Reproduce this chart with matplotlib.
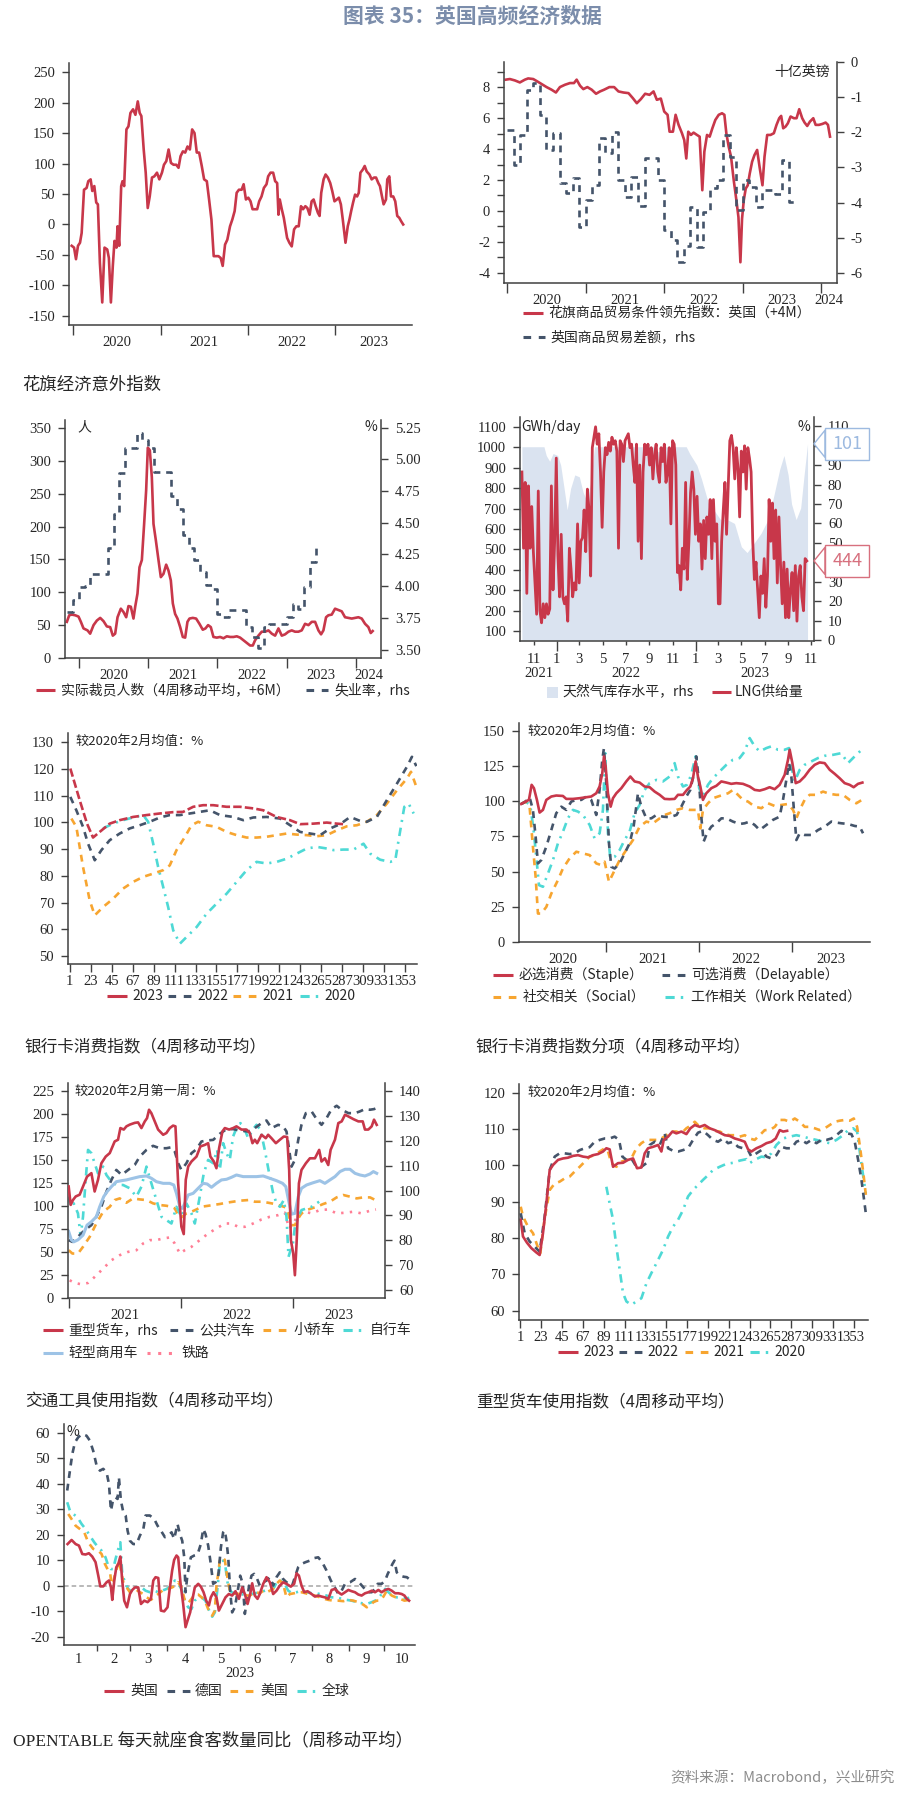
import numpy as np
import pandas as pd
import matplotlib
matplotlib.use("Agg")
import matplotlib.pyplot as plt
import matplotlib.dates as mdates
import matplotlib.transforms as mtransforms
from matplotlib.lines import Line2D
from matplotlib.patches import Rectangle
from matplotlib.ticker import FuncFormatter

plt.rcParams['font.family'] = ['Liberation Serif', 'Noto Sans CJK SC', 'DejaVu Sans']
plt.rcParams['axes.unicode_minus'] = False
CJK = ['Noto Sans CJK SC', 'DejaVu Sans']

# ---------------- data ----------------
# 1) Citi economic surprise index UK  (years after 2020, value)
cesi = [(-0.019, -35), (0.008, -38), (0.030, -57), (0.053, -35), (0.076, -30), (0.095, -14), (0.122, 57), (0.152, 60),
        (0.171, 71), (0.198, 74), (0.217, 55), (0.240, 63), (0.262, 36), (0.281, 33), (0.304, -63), (0.331, -128),
        (0.357, -38), (0.388, -41), (0.407, -55), (0.430, -128), (0.452, -68), (0.471, -27), (0.494, -38), (0.506, -3),
        (0.525, -35), (0.548, 63), (0.563, 71), (0.582, 63), (0.608, 156), (0.631, 161), (0.654, 183), (0.684, 189),
        (0.711, 180), (0.738, 202), (0.760, 183), (0.779, 178), (0.806, 123), (0.829, 85), (0.852, 27), (0.875, 46),
        (0.901, 77), (0.928, 79), (0.958, 85), (0.985, 74), (1.015, 85), (1.038, 98), (1.065, 104), (1.091, 123),
        (1.118, 101), (1.148, 98), (1.179, 98), (1.205, 93), (1.228, 112), (1.255, 120), (1.281, 118), (1.308, 128),
        (1.335, 123), (1.361, 156), (1.388, 150), (1.414, 118), (1.441, 118), (1.471, 96), (1.498, 74), (1.529, 71),
        (1.555, 41), (1.582, 8), (1.608, -52), (1.635, -52), (1.662, -52), (1.688, -55), (1.711, -68), (1.738, -33),
        (1.764, -25), (1.795, -3), (1.821, 8), (1.848, 22), (1.871, 52), (1.897, 57), (1.928, 57), (1.951, 66),
        (1.977, 41), (2.004, 44), (2.030, 38), (2.053, 25), (2.080, 25), (2.106, 25), (2.129, 38), (2.156, 46),
        (2.183, 60), (2.213, 66), (2.232, 79), (2.259, 85), (2.289, 85), (2.312, 71), (2.335, 68), (2.350, 16),
        (2.365, 41), (2.388, 25), (2.411, 11), (2.433, -8), (2.449, -22), (2.475, -30), (2.502, -36), (2.529, -8),
        (2.555, -3), (2.582, -3), (2.608, 30), (2.631, 25), (2.658, 30), (2.681, 27), (2.707, 16), (2.730, 38),
        (2.753, 41), (2.776, 30), (2.802, 19), (2.821, 14), (2.840, 52), (2.867, 74), (2.890, 82), (2.916, 77),
        (2.943, 68), (2.966, 55), (2.992, 38), (3.019, 41), (3.042, 44), (3.065, 33), (3.087, 8), (3.118, -30),
        (3.144, -3), (3.163, 8), (3.183, 22), (3.205, 36), (3.228, 49), (3.251, 46), (3.270, 52), (3.289, 85),
        (3.316, 90), (3.338, 96), (3.361, 87), (3.392, 82), (3.418, 74), (3.445, 77), (3.468, 77), (3.494, 68),
        (3.513, 63), (3.536, 46), (3.555, 33), (3.582, 41), (3.597, 74), (3.620, 79), (3.639, 46), (3.665, 46),
        (3.688, 38), (3.711, 14), (3.734, 11), (3.757, 5), (3.779, 0)]

# 2) Citi terms of trade leading index (+4M) and UK goods trade balance (rhs, monthly from Jan 2020)
tot = [(-0.017, 8.48), (0.034, 8.52), (0.098, 8.43), (0.162, 8.3), (0.226, 8.48), (0.268, 8.56), (0.332, 8.52),
       (0.383, 8.37), (0.438, 8.2), (0.502, 8.0), (0.566, 7.83), (0.621, 7.65), (0.672, 8.0), (0.736, 8.15), (0.8, 8.26),
       (0.851, 8.26), (0.885, 8.48), (0.928, 8.09), (0.970, 7.87), (1.021, 8.0), (1.077, 7.83), (1.132, 7.57),
       (1.183, 7.72), (1.234, 7.83), (1.302, 8.0), (1.362, 8.0), (1.417, 7.72), (1.481, 7.65), (1.545, 7.61),
       (1.6, 7.29), (1.651, 6.96), (1.702, 7.22), (1.757, 7.57), (1.813, 7.5), (1.864, 7.72), (1.906, 7.18),
       (1.957, 7.26), (2.0, 6.42), (2.043, 6.21), (2.068, 5.12), (2.111, 5.12), (2.145, 6.21), (2.183, 5.56),
       (2.226, 5.02), (2.255, 4.58), (2.281, 3.39), (2.306, 5.12), (2.340, 4.91), (2.374, 5.06), (2.417, 4.91),
       (2.451, 4.8), (2.485, 1.34), (2.511, 3.83), (2.545, 4.91), (2.579, 4.8), (2.613, 5.34), (2.651, 5.88),
       (2.694, 6.21), (2.736, 6.31), (2.766, 6.21), (2.791, 5.02), (2.821, 4.15), (2.851, 3.5), (2.885, 1.99),
       (2.919, 0.69), (2.945, -0.39), (2.970, -3.31), (2.991, -0.5), (3.013, 0.69), (3.038, 1.45), (3.064, 1.66),
       (3.089, 2.42), (3.119, 3.18), (3.149, 3.61), (3.183, 3.94), (3.217, 2.75), (3.251, 1.66), (3.277, 3.5),
       (3.311, 4.91), (3.353, 4.91), (3.396, 5.02), (3.430, 5.56), (3.464, 5.99), (3.489, 6.14), (3.515, 5.34),
       (3.545, 5.45), (3.574, 5.66), (3.609, 6.1), (3.651, 5.99), (3.685, 5.99), (3.719, 6.57), (3.757, 5.99),
       (3.787, 5.71), (3.821, 5.49), (3.855, 5.77), (3.898, 5.99), (3.928, 5.56), (3.970, 5.56), (4.013, 5.62),
       (4.055, 5.71), (4.085, 5.56), (4.111, 4.8)]
trade_bal = [-1.93, -2.93, -2.07, -0.79, -0.6, -1.5, -2.5, -2.02, -3.45, -3.72, -3.3, -4.69, -3.93, -3.5, -2.17,
             -2.6, -1.98, -3.36, -3.83, -3.26, -4.1, -2.74, -2.74, -3.36, -4.78, -5.07, -5.68, -5.24, -4.12, -5.26,
             -4.26, -3.59, -3.36, -2.07, -2.69, -4.21, -3.36, -3.55, -4.12, -3.64, -3.64, -3.74, -2.78, -3.97]

# 3) layoffs (4wk avg, +6M) and unemployment rate (rhs, monthly from Nov 2019)
layoffs = [(-0.173, 55), (-0.139, 65), (-0.101, 66), (-0.053, 65), (-0.005, 63), (0.029, 55), (0.067, 45), (0.125, 42),
           (0.163, 37), (0.212, 50), (0.260, 57), (0.308, 61), (0.356, 56), (0.404, 48), (0.452, 47), (0.490, 34),
           (0.524, 37), (0.558, 62), (0.606, 75), (0.644, 70), (0.683, 62), (0.716, 79), (0.75, 78), (0.788, 60),
           (0.813, 78), (0.846, 98), (0.875, 138), (0.909, 149), (0.942, 204), (0.971, 255), (0.995, 320), (1.024, 316),
           (1.053, 275), (1.077, 204), (1.111, 179), (1.149, 149), (1.183, 123), (1.221, 128), (1.260, 142),
           (1.293, 133), (1.327, 118), (1.356, 83), (1.389, 67), (1.423, 60), (1.462, 47), (1.5, 32), (1.534, 31),
           (1.567, 55), (1.596, 60), (1.644, 61), (1.692, 60), (1.740, 52), (1.788, 43), (1.827, 45), (1.865, 50),
           (1.904, 47), (1.942, 32), (1.990, 31), (2.038, 32), (2.087, 30), (2.135, 33), (2.183, 32), (2.231, 32),
           (2.279, 33), (2.327, 31), (2.375, 27), (2.423, 23), (2.471, 19), (2.510, 19), (2.543, 27), (2.591, 34),
           (2.639, 40), (2.688, 40), (2.736, 42), (2.784, 37), (2.832, 34), (2.880, 45), (2.928, 34), (2.976, 36),
           (3.024, 40), (3.072, 42), (3.120, 40), (3.168, 40), (3.216, 42), (3.264, 52), (3.313, 50), (3.361, 55),
           (3.409, 55), (3.457, 42), (3.495, 36), (3.529, 42), (3.567, 62), (3.601, 65), (3.649, 66), (3.697, 75),
           (3.745, 73), (3.793, 71), (3.841, 62), (3.889, 61), (3.938, 60), (3.986, 61), (4.034, 62), (4.082, 60),
           (4.130, 52), (4.178, 47), (4.212, 38), (4.240, 41)]
unemp = [3.80, 3.89, 3.99, 4.00, 4.10, 4.10, 4.10, 4.30, 4.57, 4.89, 5.09, 5.09, 5.21, 5.15, 5.09, 4.90, 4.90, 4.90,
         4.71, 4.61, 4.40, 4.30, 4.21, 4.11, 4.01, 3.98, 3.78, 3.76, 3.81, 3.81, 3.81, 3.68, 3.60, 3.51, 3.68, 3.70,
         3.70, 3.70, 3.76, 3.86, 3.82, 3.99, 4.19, 4.30]

# 4) LNG supply (GWh/day, 2021-10-01 .. 2023-10-20) and gas storage level (%, rhs)
lng = [879, 506, 828, 285, 811, 506, 710, 489, 336, 183, 786, 200, 141, 234, 166, 234, 183, 209, 811, 302, 540, 947,
       472, 268, 574, 268, 234, 268, 149, 506, 404, 268, 336, 302, 625, 336, 540, 557, 693, 489, 795, 693, 370, 998,
       1049, 1100, 1015, 1066, 879, 608, 879, 998, 964, 1024, 981, 1049, 1015, 1032, 981, 506, 1032, 1015, 930, 1032,
       1049, 1066, 998, 1015, 913, 828, 1015, 540, 913, 455, 879, 1015, 964, 1015, 913, 998, 845, 964, 1015, 879, 828,
       998, 930, 1015, 828, 879, 998, 625, 1032, 1015, 913, 387, 421, 302, 506, 404, 828, 353, 540, 777, 879, 795,
       574, 760, 540, 625, 404, 642, 455, 659, 574, 744, 455, 744, 540, 625, 234, 234, 540, 693, 828, 574, 811, 1032,
       1058, 998, 845, 998, 896, 659, 981, 879, 1007, 795, 998, 947, 879, 540, 353, 438, 302, 166, 370, 285, 455, 217,
       370, 744, 540, 727, 455, 693, 336, 659, 421, 234, 438, 166, 404, 166, 302, 387, 200, 421, 149, 370, 421, 268,
       200, 455, 444]
storage = [('2021-10-01', 99.5), ('2021-11-28', 99.5), ('2021-12-04', 95), ('2021-12-13', 92), ('2021-12-22', 96),
           ('2022-01-03', 95), ('2022-01-11', 90), ('2022-01-20', 78), ('2022-01-28', 67), ('2022-02-06', 78),
           ('2022-02-17', 85), ('2022-03-01', 84), ('2022-03-11', 76), ('2022-03-20', 72), ('2022-03-30', 80),
           ('2022-04-10', 99.5), ('2022-09-11', 99.5), ('2022-09-19', 97), ('2022-10-02', 97), ('2022-10-11', 99.5),
           ('2022-12-07', 99.5), ('2022-12-16', 96), ('2023-01-04', 90), ('2023-01-16', 83), ('2023-02-04', 70),
           ('2023-02-21', 66), ('2023-03-07', 62), ('2023-03-25', 62), ('2023-04-13', 60), ('2023-05-01', 48),
           ('2023-05-16', 45), ('2023-06-04', 50), ('2023-06-22', 55), ('2023-07-10', 62), ('2023-07-25', 74),
           ('2023-08-10', 88), ('2023-08-21', 95), ('2023-09-01', 85), ('2023-09-10', 70), ('2023-09-22', 62),
           ('2023-10-04', 68), ('2023-10-13', 85), ('2023-10-22', 101)]

# 5) card spending index by year (day of year, % of Feb 2020)
card23 = [(1.7, 120.1), (11.5, 108.3), (19.2, 99.5), (25.5, 94.3), (32.5, 96.4), (43, 99.5), (53.5, 100.8), (67.5, 102),
          (81.6, 102.7), (95.6, 103.3), (109.6, 103.8), (120, 103.9), (130.6, 105.8), (141, 106.4), (151.6, 106.4),
          (165.6, 105.8), (179.6, 105.8), (193.6, 105.2), (204, 104.5), (218, 102), (232, 100.8), (242.7, 99.3),
          (256.7, 99.5), (270.7, 99.9), (281.2, 99.5), (288.2, 99.3)]
card22 = [(1.7, 109.5), (8, 104.5), (15, 98.3), (20.3, 92), (27.3, 85.8), (34.3, 89.6), (43, 93.3), (53.5, 95.8),
          (64, 97.7), (74.6, 98.9), (85, 100.2), (95.6, 101.8), (106, 102.7), (116.6, 102.7), (127.1, 103.3),
          (137.6, 103.9), (148.1, 104.5), (158.6, 102.7), (172.6, 102), (183.1, 100.8), (193.6, 101.8), (207.7, 102),
          (221.7, 101.4), (232.2, 98.9), (242.7, 96.4), (253.2, 95.8), (263.7, 95.2), (274.2, 97.7), (284.7, 99.3),
          (295.2, 102), (305.7, 100.5), (312.7, 100.2), (323.2, 102), (333.7, 108.3), (344.3, 114.5), (354.8, 120.8),
          (360, 124.5), (364.6, 121)]
card21 = [(2.8, 101.4), (8, 98.3), (15, 83.3), (22, 70.8), (27.3, 65.2), (36, 68.3), (46.5, 71.4), (57, 75.2),
          (67.5, 77.7), (78.1, 79.6), (88.6, 80.8), (99.1, 82.1), (106, 83.9), (113.1, 89.6), (121.8, 94.5),
          (128.8, 98.9), (135.8, 100.2), (144.6, 98.9), (155.1, 98.3), (165.6, 96.4), (176.1, 95.2), (186.6, 94.3),
          (197.1, 94.3), (207.7, 94.6), (218.2, 95.2), (228.7, 95.8), (239.2, 95.4), (249.7, 95.2), (260.2, 94.8),
          (270.7, 95.2), (281.2, 97), (291.7, 98.5), (302.2, 98.9), (312.7, 100.2), (323.2, 102.7), (333.7, 107),
          (344.3, 112), (354.8, 116.4), (359, 118.9), (364.6, 113.3)]
card20 = [(36, 97.7), (46.5, 99.5), (57, 100.8), (67.5, 101.8), (78.1, 102.7), (83.3, 100.2), (88.6, 92), (93.8, 83.3),
          (99.1, 75.8), (104.3, 68.3), (109.6, 59.6), (116.6, 54.6), (123.6, 57.1), (134.1, 60.8), (144.6, 65.8),
          (155.1, 69.6), (165.6, 73.3), (176.1, 77.7), (186.6, 82.1), (197.1, 85.2), (207.7, 84.6), (218.2, 85.2),
          (228.7, 86.4), (239.2, 88.3), (249.7, 90.2), (260.2, 90.8), (270.7, 90.2), (277.7, 89.6), (288.2, 89.8),
          (298.7, 89.8), (309.2, 92), (316.2, 88.3), (326.7, 86), (337.2, 85.2), (342.5, 85.8), (346, 93.3),
          (352, 105.8), (356.5, 107), (361.8, 103.3)]

# 6) card spending components (year, % of Feb 2020)
staple = [(2020.084, 98), (2020.131, 99.7), (2020.167, 100.9), (2020.196, 111.6), (2020.221, 109.2), (2020.253, 100.9),
          (2020.282, 91.9), (2020.318, 93.8), (2020.354, 100.9), (2020.408, 103.3), (2020.461, 104), (2020.533, 103.7),
          (2020.569, 101.6), (2020.641, 101.6), (2020.713, 102.1), (2020.785, 102.8), (2020.838, 103.3),
          (2020.892, 105.6), (2020.928, 110.4), (2020.957, 119.9), (2020.975, 131.8), (2020.993, 124.6),
          (2021.018, 105.6), (2021.047, 96.1), (2021.072, 102.1), (2021.108, 105.6), (2021.162, 109.2), (2021.215, 114),
          (2021.259, 117.5), (2021.305, 114), (2021.359, 113.2), (2021.413, 110.4), (2021.467, 109.9),
          (2021.521, 106.8), (2021.575, 104.5), (2021.628, 101.6), (2021.682, 101.4), (2021.736, 101.6),
          (2021.772, 104.5), (2021.826, 104.5), (2021.869, 108), (2021.905, 110.4), (2021.934, 116.3),
          (2021.962, 128.2), (2021.987, 117.5), (2022.013, 110.4), (2022.041, 100.9), (2022.077, 105.6),
          (2022.131, 109.2), (2022.185, 110.9), (2022.239, 114), (2022.293, 113.2), (2022.346, 112.3), (2022.4, 112.8),
          (2022.472, 112.3), (2022.544, 110.4), (2022.598, 108), (2022.652, 107.5), (2022.706, 108.5),
          (2022.759, 109.9), (2022.813, 108.5), (2022.867, 111.6), (2022.921, 118.7), (2022.957, 129.4),
          (2022.975, 136.5), (2023.004, 127), (2023.040, 112.8), (2023.083, 114), (2023.136, 117.5), (2023.190, 122.3),
          (2023.244, 125.8), (2023.298, 127.5), (2023.352, 127), (2023.406, 122.3), (2023.460, 119.4),
          (2023.513, 116.3), (2023.567, 112.8), (2023.621, 111.6), (2023.664, 109.9), (2023.711, 112.3),
          (2023.758, 113.2)]
delayable = [(2020.084, 98), (2020.131, 99.7), (2020.174, 102.8), (2020.210, 93.8), (2020.239, 74.8), (2020.264, 55.8),
             (2020.300, 58.2), (2020.354, 67.7), (2020.408, 79.5), (2020.461, 91.4), (2020.515, 96.1), (2020.569, 93.8),
             (2020.623, 99.7), (2020.677, 100.9), (2020.731, 100.9), (2020.785, 103.3), (2020.838, 100.9),
             (2020.892, 90.2), (2020.928, 108), (2020.957, 129.4), (2020.975, 137.7), (2021.0, 112.8), (2021.029, 70),
             (2021.054, 53.4), (2021.090, 52.2), (2021.144, 55.8), (2021.197, 62.9), (2021.251, 70), (2021.294, 81.9),
             (2021.323, 96.1), (2021.341, 105.6), (2021.377, 96.1), (2021.431, 87.8), (2021.485, 87.8),
             (2021.539, 90.2), (2021.610, 89), (2021.682, 88.6), (2021.757, 90.2), (2021.808, 96.1), (2021.862, 103.3),
             (2021.905, 108), (2021.951, 122.3), (2021.969, 131.8), (2022.0, 112.8), (2022.023, 89), (2022.048, 71.2),
             (2022.084, 77.2), (2022.131, 81.9), (2022.185, 84.3), (2022.239, 87.8), (2022.293, 87.8),
             (2022.364, 85.5), (2022.436, 83.8), (2022.490, 84.3), (2022.544, 85.5), (2022.598, 83.1),
             (2022.652, 79.5), (2022.724, 83.1), (2022.795, 86.7), (2022.867, 89), (2022.903, 100.9), (2022.939, 115.1),
             (2022.968, 127), (2022.993, 117.5), (2023.018, 96.1), (2023.047, 72.4), (2023.083, 77.2), (2023.136, 76),
             (2023.208, 76), (2023.280, 79.5), (2023.352, 81.9), (2023.424, 85.5), (2023.477, 84.8), (2023.531, 84.3),
             (2023.603, 83.8), (2023.675, 82.4), (2023.729, 81.9), (2023.765, 77.2)]
social = [(2020.084, 98), (2020.131, 99.7), (2020.174, 96.1), (2020.210, 67.7), (2020.239, 46.3), (2020.264, 20.2),
          (2020.300, 20.2), (2020.354, 24.9), (2020.408, 34.4), (2020.479, 43.9), (2020.533, 52.2), (2020.605, 59.4),
          (2020.677, 64.1), (2020.749, 62.9), (2020.821, 61.7), (2020.892, 55.8), (2020.946, 54.6), (2020.982, 57),
          (2021.029, 42.7), (2021.090, 51), (2021.144, 58.2), (2021.215, 65.3), (2021.287, 72.4), (2021.359, 81.9),
          (2021.431, 85.5), (2021.503, 84.3), (2021.575, 87.8), (2021.628, 90.2), (2021.682, 91.4), (2021.757, 93.8),
          (2021.826, 95), (2021.898, 93.8), (2021.951, 93.8), (2021.987, 93.8), (2022.013, 80.7), (2022.041, 93.8),
          (2022.095, 98.5), (2022.149, 102.1), (2022.203, 103.3), (2022.257, 104.5), (2022.311, 105.6),
          (2022.364, 108), (2022.418, 104.5), (2022.472, 100.9), (2022.526, 99.7), (2022.598, 96.1), (2022.670, 95),
          (2022.742, 98.5), (2022.813, 96.6), (2022.885, 97.3), (2022.957, 98), (2023.011, 93.8), (2023.047, 87.8),
          (2023.083, 93.8), (2023.136, 100.9), (2023.190, 104.5), (2023.262, 104.5), (2023.334, 106.8),
          (2023.406, 105.2), (2023.477, 104.5), (2023.549, 104.5), (2023.621, 100.9), (2023.693, 98.5),
          (2023.765, 101.4)]
work = [(2020.084, 98), (2020.131, 99.7), (2020.181, 97.3), (2020.217, 79.5), (2020.246, 60.5), (2020.275, 40.4),
        (2020.318, 39.2), (2020.372, 48.7), (2020.426, 58.2), (2020.479, 70), (2020.533, 78.3), (2020.587, 87.8),
        (2020.641, 93.8), (2020.695, 92.6), (2020.749, 90.2), (2020.821, 83.1), (2020.874, 73.6), (2020.928, 77.2),
        (2020.964, 93.8), (2020.989, 134.1), (2021.018, 77.2), (2021.043, 59.4), (2021.090, 60.5), (2021.144, 65.3),
        (2021.197, 72.4), (2021.251, 78.3), (2021.305, 91.4), (2021.359, 97.3), (2021.413, 108), (2021.467, 112.8),
        (2021.539, 115.1), (2021.610, 114), (2021.682, 117.5), (2021.736, 127), (2021.772, 117.5), (2021.826, 110.4),
        (2021.869, 111.6), (2021.915, 118.7), (2021.962, 131.8), (2022.0, 109.2), (2022.041, 103.3),
        (2022.095, 111.6), (2022.149, 116.3), (2022.221, 121.1), (2022.293, 125.8), (2022.364, 129.4),
        (2022.436, 130.6), (2022.490, 135.3), (2022.544, 144.8), (2022.598, 138.9), (2022.652, 135.3),
        (2022.724, 137.7), (2022.777, 138.9), (2022.849, 136.5), (2022.921, 136.5), (2022.968, 137.7),
        (2022.993, 124.6), (2023.029, 114), (2023.083, 122.3), (2023.136, 125.8), (2023.208, 128.2),
        (2023.280, 130.6), (2023.352, 132.2), (2023.442, 132.9), (2023.531, 134.1), (2023.603, 127),
        (2023.675, 131.8), (2023.758, 137)]

# 7) transport usage (years after 2021, % of first week of Feb 2020); heavy truck on rhs
truck = [(0.0, 101.6), (0.018, 94.2), (0.039, 96.2), (0.063, 97.6), (0.098, 98.3), (0.128, 101.6), (0.164, 105.6),
         (0.203, 107), (0.232, 99.6), (0.262, 104.3), (0.292, 111), (0.331, 113.7), (0.367, 115.1), (0.411, 119.8),
         (0.441, 120.5), (0.462, 125.2), (0.492, 124.6), (0.516, 125.9), (0.546, 126.6), (0.590, 127.3),
         (0.620, 127.5), (0.650, 125.2), (0.680, 127.9), (0.700, 129.2), (0.718, 132.6), (0.739, 131.2),
         (0.769, 127.9), (0.799, 124.6), (0.844, 122.5), (0.873, 123.2), (0.903, 125.2), (0.933, 126.2),
         (0.954, 125.9), (0.978, 102.9), (1.007, 85.4), (1.028, 82.4), (1.046, 104.3), (1.068, 109.7), (1.097, 111.7),
         (1.142, 113.7), (1.177, 117.8), (1.216, 118.4), (1.246, 119.1), (1.266, 113.7), (1.297, 111.7), (1.320, 109),
         (1.344, 117.1), (1.374, 123.9), (1.395, 125.2), (1.434, 124.6), (1.469, 125.2), (1.499, 125.9),
         (1.544, 124.6), (1.588, 124.6), (1.618, 123.2), (1.642, 119.1), (1.663, 120.5), (1.684, 119.1),
         (1.723, 122.5), (1.761, 121.1), (1.782, 122.5), (1.812, 121.1), (1.851, 119.1), (1.887, 120.5),
         (1.922, 121.8), (1.952, 121.6), (1.970, 108.3), (1.985, 80), (2.006, 74.6), (2.021, 65.8), (2.036, 78.6),
         (2.057, 102.9), (2.080, 108.3), (2.119, 111), (2.155, 113), (2.200, 113), (2.238, 116.4), (2.259, 111.7),
         (2.289, 113), (2.319, 110.3), (2.340, 116.4), (2.379, 120.5), (2.409, 127.2), (2.439, 127.9), (2.469, 130.6),
         (2.499, 129.9), (2.544, 128.8), (2.588, 127.9), (2.627, 127.9), (2.647, 124.6), (2.677, 124.6),
         (2.707, 125.9), (2.728, 128.6), (2.752, 126.5)]
bus = [(0.0, 63), (0.033, 61.1), (0.083, 66.6), (0.143, 73.9), (0.203, 79.3), (0.247, 88.4), (0.292, 99.3),
       (0.337, 115.7), (0.382, 128.5), (0.426, 139.4), (0.473, 133.9), (0.531, 139.4), (0.590, 144.8), (0.635, 153.9),
       (0.695, 161.2), (0.754, 165.6), (0.814, 163), (0.873, 163), (0.918, 164.1), (0.948, 159.4), (0.978, 146.7),
       (1.007, 139.4), (1.052, 146.7), (1.097, 157.6), (1.142, 161.9), (1.186, 170.3), (1.231, 171.4), (1.291, 172.1),
       (1.350, 178.7), (1.410, 183.8), (1.469, 183.8), (1.529, 182.3), (1.604, 181.2), (1.663, 184.9), (1.723, 190.3),
       (1.767, 193.2), (1.812, 184.9), (1.872, 188.5), (1.917, 186.7), (1.946, 181.2), (1.970, 161.2), (1.991, 143),
       (2.021, 150.3), (2.051, 172.1), (2.080, 188.5), (2.119, 201.2), (2.170, 203.1), (2.215, 194.7), (2.259, 188.5),
       (2.304, 195.8), (2.349, 205.6), (2.394, 209.2), (2.439, 204.9), (2.499, 201.2), (2.558, 201.2), (2.602, 203.1),
       (2.647, 205.6), (2.692, 204.9), (2.728, 205.6), (2.752, 206.7)]
car = [(0.0, 52), (0.033, 48.4), (0.083, 48.4), (0.128, 55.7), (0.188, 66.6), (0.247, 81.1), (0.308, 93.9),
       (0.367, 99.3), (0.411, 106.6), (0.456, 108.4), (0.516, 103.7), (0.575, 108.4), (0.635, 107.3), (0.695, 106.6),
       (0.754, 103), (0.814, 101.2), (0.873, 100.4), (0.918, 99.3), (0.948, 97.5), (0.978, 90.2), (1.007, 87.7),
       (1.052, 92.1), (1.097, 93.9), (1.142, 96.4), (1.186, 99.3), (1.231, 100.1), (1.291, 101.2), (1.350, 102.3),
       (1.410, 103.7), (1.469, 104.8), (1.529, 105.9), (1.604, 106.6), (1.663, 104.8), (1.723, 104.8), (1.782, 103.7),
       (1.842, 102.3), (1.902, 100.1), (1.940, 98.6), (1.961, 92.1), (1.991, 79.3), (2.021, 79.3), (2.051, 86.6),
       (2.080, 92.1), (2.125, 95.7), (2.170, 97.5), (2.215, 99.3), (2.274, 102.3), (2.334, 104.8), (2.394, 109.5),
       (2.453, 112.1), (2.513, 110.3), (2.573, 108.4), (2.632, 109.5), (2.692, 109.5), (2.752, 105.9)]
bike = [(0.0, 110.3), (0.018, 99.3), (0.045, 103), (0.083, 92.1), (0.107, 66.6), (0.128, 88.4), (0.152, 128.5),
        (0.173, 161.2), (0.203, 157.6), (0.232, 146.7), (0.262, 135.7), (0.308, 143), (0.337, 133.9), (0.382, 126.6),
        (0.426, 123), (0.486, 123), (0.546, 119.4), (0.605, 110.3), (0.650, 121.2), (0.695, 143), (0.739, 124.8),
        (0.784, 106.6), (0.829, 88.4), (0.873, 84.8), (0.918, 81.1), (0.963, 99.3), (1.007, 88.4), (1.052, 103),
        (1.097, 92.1), (1.127, 81.1), (1.171, 110.3), (1.207, 135.7), (1.246, 150.3), (1.291, 146.7), (1.326, 161.2),
        (1.350, 139.4), (1.380, 168.5), (1.410, 157.6), (1.439, 150.3), (1.469, 175.8), (1.505, 186.7),
        (1.535, 190.3), (1.574, 183), (1.604, 173.9), (1.642, 183), (1.678, 188.5), (1.714, 183), (1.752, 161.2),
        (1.791, 135.7), (1.827, 113.9), (1.857, 103), (1.887, 99.3), (1.922, 106.6), (1.946, 88.4), (1.964, 44.8),
        (1.982, 52), (2.0, 55.7), (2.021, 77.5), (2.051, 88.4), (2.080, 95.7), (2.125, 97.5), (2.170, 99.3),
        (2.215, 103), (2.238, 104.8)]
lcv = [(0.0, 72.4), (0.024, 63.3), (0.045, 61.1), (0.083, 63.3), (0.128, 68.4), (0.164, 79.3), (0.203, 83),
       (0.247, 88.4), (0.277, 99.3), (0.313, 110.3), (0.343, 115.7), (0.382, 121.2), (0.426, 126.6), (0.473, 127.7),
       (0.516, 128.5), (0.575, 130.3), (0.635, 132.1), (0.695, 132.8), (0.739, 130.3), (0.784, 126.6), (0.844, 124.8),
       (0.903, 124.8), (0.939, 123), (0.963, 113.9), (0.993, 99.3), (1.016, 97.5), (1.037, 103), (1.067, 112.1),
       (1.112, 113.9), (1.157, 119.4), (1.201, 124.8), (1.237, 124.1), (1.276, 120.5), (1.320, 124.8), (1.365, 128.5),
       (1.410, 129.2), (1.455, 131.4), (1.499, 133.9), (1.559, 132.1), (1.618, 132.1), (1.678, 132.1), (1.738, 132.8),
       (1.797, 130.3), (1.857, 127.7), (1.911, 124.8), (1.940, 121.2), (1.964, 106.6), (1.991, 91.3), (2.021, 92.1),
       (2.051, 110.3), (2.080, 119.4), (2.125, 123), (2.185, 125.5), (2.244, 127.7), (2.289, 124.8), (2.334, 128.5),
       (2.379, 132.1), (2.424, 137.6), (2.469, 140.1), (2.513, 140.1), (2.558, 135.7), (2.602, 133.9), (2.647, 132.8),
       (2.692, 135), (2.722, 137.6), (2.752, 135.7)]
rail = [(0.009, 19.3), (0.054, 16.4), (0.113, 14.9), (0.173, 16.4), (0.232, 22.9), (0.308, 32), (0.382, 41.1),
        (0.456, 46.6), (0.531, 50.2), (0.605, 52), (0.665, 59.3), (0.725, 63), (0.784, 63), (0.844, 64.8),
        (0.903, 65.9), (0.948, 59.3), (0.993, 48.4), (1.037, 52), (1.097, 55.7), (1.171, 63), (1.246, 70.2),
        (1.320, 75.7), (1.395, 81.1), (1.455, 81.1), (1.514, 77.5), (1.574, 77.5), (1.648, 81.1), (1.723, 85.5),
        (1.797, 88.4), (1.872, 90.2), (1.931, 92.8), (1.970, 75.7), (2.006, 81.1), (2.051, 90.2), (2.110, 93.9),
        (2.170, 92.1), (2.244, 95.7), (2.319, 96.4), (2.394, 92.1), (2.469, 92.8), (2.543, 93.9), (2.617, 92.1),
        (2.692, 95), (2.745, 96.4)]

# 8) heavy truck usage by year (day of year, % of Feb 2020)
hgv23 = [(1.4, 85), (3.8, 80.4), (8, 78.7), (12.6, 77.2), (17.9, 76), (21.4, 75.3), (24.9, 81.3), (28.5, 89.5),
         (32, 98.7), (35.5, 100.1), (40.8, 101.5), (46.1, 101.9), (51.3, 102.1), (56.6, 102.6), (61.9, 102.8),
         (67.2, 102.4), (72.5, 102.2), (77.7, 102.8), (83, 103.1), (88.3, 103.8), (91.8, 104.7), (95.3, 104.4),
         (98.9, 99.6), (104.1, 100.6), (109.4, 100.7), (114.7, 101.5), (120, 101.9), (124.2, 99.2), (128.8, 99.4),
         (132.3, 103.3), (135.8, 104.7), (141.1, 105.1), (146.4, 105.6), (149.9, 103.8), (152.4, 107), (157, 107.9),
         (161.5, 109.3), (165.7, 108.8), (171, 109.3), (176.3, 108.6), (180.5, 110.2), (185.1, 111.1),
         (190.4, 110.6), (195.6, 111.1), (200.9, 110.2), (206.2, 109.7), (211.5, 109), (216.8, 108.3), (222, 108.1),
         (227.3, 107.4), (232.6, 107), (237.9, 106.5), (241.4, 104.4), (244.9, 103.8), (250.2, 104.7),
         (255.5, 105.3), (260.8, 106.1), (266, 106.5), (270.6, 107.4), (274.8, 109.7), (278.4, 109.3),
         (282.6, 109.5)]
hgv22 = [(1.4, 86.8), (5.6, 81.3), (10.9, 79), (16.1, 77.6), (21.4, 76.2), (26.7, 85.9), (32, 98.7), (37.3, 102.4),
         (42.5, 103.3), (47.8, 103.3), (53.1, 103.1), (58.4, 103.3), (63.7, 104.2), (69, 104.7), (74.2, 105),
         (79.5, 106.5), (84.8, 107), (90.1, 107.4), (95.3, 107.4), (100.6, 107.9), (105.2, 107), (108.7, 102.4),
         (113, 101.5), (118.2, 101.9), (123.5, 99.6), (128.8, 99.6), (134.1, 100.6), (137.6, 105.6), (142.9, 106.5),
         (148.1, 105.6), (153.4, 108.8), (157, 104.7), (162.2, 104), (167.5, 103.8), (172.8, 104.2), (178, 104.7),
         (183.3, 107), (188.6, 109), (193.9, 109.5), (199.2, 108.3), (204.4, 107), (209.7, 106.5), (215, 107.4),
         (220.3, 106.1), (225.6, 106.5), (230.8, 105.1), (236.1, 104.7), (241.4, 104.2), (244.9, 102.4),
         (250.2, 103.3), (255.5, 104.2), (260.8, 102.4), (266, 101.9), (271.3, 102.8), (276.6, 105.1), (281.9, 104.7),
         (287.2, 104.7), (292.4, 106.5), (297.7, 107), (303, 106.1), (308.3, 107), (313.6, 106.1), (318.8, 107),
         (324.1, 107), (329.4, 107.4), (334.7, 108.3), (340, 109.5), (345.2, 108.8), (350.5, 108.6), (354, 106.5),
         (357.6, 101.5), (361.1, 96), (365.7, 86.8)]
hgv21 = [(1.4, 88.6), (3.8, 85.9), (9.1, 83.1), (14.4, 81.3), (18.6, 78.1), (22.1, 75.8), (26.7, 85.4), (32, 93.2),
         (37.3, 95), (42.5, 95.5), (47.8, 96.4), (53.1, 96.9), (58.4, 98.3), (63.7, 99.6), (69, 101), (74.2, 102.4),
         (79.5, 102.8), (84.8, 103.8), (90.1, 104.7), (93.6, 103.8), (97.1, 100.6), (102.4, 99.6), (107.7, 101),
         (113, 101.5), (118.2, 101.9), (123.5, 104.7), (128.8, 106.1), (134.1, 107), (139.3, 107), (144.6, 107),
         (149.9, 107.4), (155.2, 108.3), (160.5, 109.3), (165.7, 109.3), (171, 108.8), (176.3, 110.2), (181.6, 111.1),
         (185.1, 112), (190.4, 110.6), (195.6, 110.2), (200.9, 110.2), (206.2, 109.5), (211.5, 109.3), (216.8, 108.6),
         (222, 108.3), (227.3, 108.3), (232.6, 107.9), (237.9, 108.3), (243.1, 107.4), (248.4, 107), (253.7, 108.3),
         (259, 109.7), (264.3, 109.7), (269.6, 110.6), (274.8, 112.5), (280.1, 112.5), (285.4, 112), (290.7, 112.9),
         (296, 112), (301.2, 110.6), (306.5, 110.6), (311.8, 110.2), (317.1, 109.7), (322.4, 110.2), (327.6, 111.1),
         (332.9, 112), (338.2, 112.3), (343.5, 112.5), (348.8, 112.3), (353, 112.9), (356.5, 110.6), (360, 104.2),
         (363.5, 96.9), (366.3, 90.5)]
hgv20 = [(91.8, 94.1), (95.3, 89.5), (98.9, 85), (102.4, 77.6), (105.9, 71.2), (109.4, 64.8), (113, 62.5),
         (118.2, 61.6), (123.5, 62.5), (128.8, 63.4), (134.1, 67.5), (139.3, 70.3), (144.6, 73), (151.6, 76.7),
         (157, 80.4), (162.2, 83.1), (167.5, 85), (172.8, 87.7), (178, 91.4), (183.3, 93.2), (188.6, 94.6),
         (193.9, 96), (199.2, 97.3), (204.4, 98.7), (211.5, 99.6), (218.5, 100.4), (225.6, 100.7), (232.6, 101.3),
         (239.7, 101.7), (243.1, 100.6), (248.4, 101.5), (255.5, 102.4), (260.8, 102.2), (266, 103.3), (271.3, 105.6),
         (278.4, 107.4), (285.4, 107.9), (292.4, 108.3), (299.5, 107.9), (306.5, 107.4), (313.6, 107), (320.6, 106.5),
         (327.6, 106.1), (334.7, 107), (341.7, 108.3), (347, 109.7), (352.3, 110.2), (356.5, 109.3), (360, 102.4),
         (363.5, 96), (365.7, 92.3)]

# 9) OpenTable seated diners y/y, 2023 (day of year, %)
ot_uk = [(7, 16.3), (10.4, 17.9), (13.8, 16.3), (16.6, 15.7), (19.4, 12.4), (22.2, 12.2), (25, 12.7), (27.8, 11.4),
         (30.6, 9.2), (32.9, 3.9), (34.6, -0.3), (37.1, -0.3), (39.9, 1.3), (41.9, 2), (43.6, -0.7), (44.7, -5.6),
         (46.4, 2), (48.1, 7.2), (49.8, 8.5), (51.5, 11.4), (53.1, 2), (54.8, -5.9), (57.1, -8.5), (59.6, -3.3),
         (61.6, -1.7), (63.8, -0.7), (66.6, -0.7), (68.9, -7.2), (71.7, -5.9), (74.5, -6.5), (77.3, -5.2), (79.3, 2),
         (81.2, 3.3), (83.5, 3), (85.7, -9.8), (88.5, -10.1), (91.3, -8.5), (93.3, -0.7), (95.2, 5.9), (96.9, 10.1),
         (98.9, 11.8), (100.3, 11.1), (102.3, 0.7), (104.5, -7.2), (106.5, -16.3), (108.2, -13.7), (110.4, -10.5),
         (112.1, -5.9), (114.3, -0.7), (117.2, 0.7), (119.4, -0.4), (121.7, -2.6), (123.9, -5.9), (126.2, -7.8),
         (127.8, -4.6), (130.1, -2.6), (132.6, -4.6), (134.6, -9.8), (137.4, -7.2), (140.2, -4.6), (143, -3.3),
         (145.8, -3.9), (148.6, -2.2), (151.5, -5.2), (154.3, -0.7), (156.5, -3.3), (158.8, -7.2), (161, -3.3),
         (162.7, 0.9), (164.9, -3.9), (167.2, -5.2), (169.1, -3.3), (172, 0.7), (174.8, 3.3), (177.6, 1.3),
         (180.4, -3.3), (183.2, -2), (186, 0), (188.8, 1.3), (191.6, 0.7), (195.3, -0.4), (198.1, 0.7), (200.1, 4.8),
         (202.1, 3.9), (204.3, 0), (206.6, -2.6), (209.4, -2.2), (212.8, -3.3), (215.6, -4.3), (218.4, -3.9),
         (221.2, -4.3), (224, -4.6), (226.9, -5.2), (229.7, -1.7), (232.5, -1.3), (235.3, -2.6), (238.1, -3.5),
         (241, -2.6), (243.8, -1.7), (246.6, -2.2), (249.4, -2.6), (252.2, -3.5), (255, -3.9), (257.9, -3),
         (260.7, -2.6), (263.5, -2), (266.3, -2.6), (269.1, -1.7), (271.9, -2.6), (274.8, -1.7), (277.6, -1.3),
         (280.4, -2), (283.2, -3), (286, -3), (288.8, -3.3), (291.1, -3.9), (293.1, -5.2), (295, -5.9)]
ot_de = [(6.7, 37.3), (9, 45.1), (11, 51.6), (13.2, 56.2), (16, 58.2), (19.4, 59.5), (23, 58.8), (25.8, 56.9),
         (28.6, 52.9), (31.5, 47.1), (34.3, 45.1), (37.1, 45.8), (39.9, 44.4), (41.9, 39.9), (43.6, 29.4), (45.5, 34),
         (47.5, 34.6), (49.2, 34), (50.3, 42.5), (52, 33.3), (54, 28.8), (56, 27.5), (57.6, 21.6), (59.6, 17.6),
         (62.4, 16.3), (65.2, 16.3), (68, 19.6), (70.9, 22.2), (72.8, 27.5), (76.4, 27.5), (80.1, 26.1), (82.9, 23.5),
         (85.7, 21.6), (89.1, 19), (91.9, 19.6), (94.7, 20.9), (96.9, 18.3), (99.7, 24.2), (101.7, 20.3),
         (103.7, 17.6), (105.4, 11.1), (106.5, -2.6), (108.2, 4.6), (111, 11.1), (113.8, 11.8), (116.6, 12.2),
         (119.4, 16.3), (121.4, 22.2), (123.3, 20.3), (125.6, 15.7), (127.8, 8.5), (129.8, 0.7), (131.8, 1.3),
         (134, 3.3), (136.3, 15), (138.2, 20.9), (139.6, 21.6), (141, 17.6), (142.5, 11.1), (144.1, -2),
         (145.8, -10.5), (148.1, -8.5), (150.3, -2.6), (152.6, 3.9), (154.8, 0.7), (156.5, -11.1), (158.2, -5.9),
         (159.9, -0.7), (162.1, 3.9), (164.4, 4.6), (166.3, 3.3), (169.1, 0), (172, 1.3), (174.8, 2), (177.6, 3.3),
         (180.4, 0), (183.2, 3.3), (186, 5.2), (188.8, 2.6), (191.6, 1.3), (194.5, 0.7), (196.4, 0), (198.7, 3.3),
         (201.5, 7.2), (204.3, 8.5), (207.7, 9.2), (211.3, 9.8), (215, 10.8), (218.4, 11.1), (221.7, 9.2),
         (225.4, 5.9), (229, 2), (232.4, -0.7), (235.3, -3.3), (238.1, -2), (241, 0.7), (245.2, 1.3), (249.4, 2.6),
         (252.8, 1.3), (256.5, -0.7), (260.1, -2.6), (263.5, -2.6), (266.3, -1.3), (268.6, 0.7), (271.9, 0.7),
         (274.8, 2), (277, 4.6), (279, 6.5), (281, 8.5), (282.7, 9.8), (284.6, 5.2), (287.5, 3.9), (290.3, 3.5),
         (293.1, 3.3), (295, 2.6)]
ot_us = [(7.6, 28.1), (10.4, 26.1), (13.8, 23.5), (17.4, 22.2), (21.1, 20.9), (24.4, 17), (28.6, 14.4), (32.9, 13.7),
         (35.7, 12.4), (38.5, 8.5), (41.3, 5.9), (43, 4.6), (44.7, -2), (46.4, 3.3), (48.4, 6.5), (50.3, 9.8), (52, 5.9),
         (54, 1.3), (56.8, -0.7), (59.6, -2.6), (62.4, -2), (65.2, -1.7), (68, -2.6), (70.9, -3.3), (73.7, -4.6),
         (77.3, -5.6), (80.7, -4.3), (83.5, -3.3), (86.3, -2.2), (89.1, -1.3), (91.9, -1.3), (95.2, -0.7), (98, 0),
         (100.3, 1.3), (103.1, -0.7), (105.9, -5.9), (108.7, -6.9), (111.5, -5.2), (114.3, -3.5), (117.2, -3.5),
         (120, -4.6), (122.8, -5.9), (125.6, -9.2), (129, -11.8), (131.2, -9.8), (132.6, 0), (134, 4.6), (135.4, 9.8),
         (137.4, 11.1), (139.6, 10.1), (141.3, 4.6), (143.8, -2), (146.7, -3.3), (149.5, -3), (152.3, -3.5),
         (155.1, -3), (158, -3.9), (160.8, -3.9), (163.6, -3), (166.4, -2.6), (169.2, -3), (172, -2), (174.8, -2.6),
         (177.6, -2), (180.4, -1.3), (183.2, 0.7), (186, 2), (188.8, 0.7), (191.6, -4.6), (194.5, -3.3), (198.1, -3),
         (201.5, -2.6), (204.3, -2.6), (207.7, -3), (211.3, -3.5), (215.6, -3.9), (219.8, -4.6), (223.5, -5.2),
         (226.9, -5.6), (231.1, -5.9), (235.3, -5.9), (239.6, -6.1), (243.8, -5.6), (248, -5.9), (252.2, -6.5),
         (256.5, -7.5), (259.3, -8.5), (262.1, -7.8), (264.9, -6.5), (267.8, -5.9), (270.6, -5.9), (273.4, -4.3),
         (276.2, -2), (278.2, -3), (280.4, -3.9), (283.8, -4.6), (287.5, -5.2), (291.1, -5.9), (295, -5.6)]
ot_world = [(6.7, 32.7), (9, 29.4), (11.8, 28.1), (15.4, 26.8), (18.8, 24.2), (22.2, 22.2), (25.8, 19.6), (29.5, 17),
            (32.9, 15), (35.7, 13.7), (39, 11.1), (41.3, 7.8), (43.6, 6.5), (45.5, 6.5), (47.5, 10.5), (49.8, 14.4),
            (51.5, 17), (53.1, 4.6), (55.4, 1.3), (58.2, -1.3), (61.6, -2.6), (65.2, -0.7), (69.4, -0.7), (72.8, -2),
            (76.4, -2.6), (80.1, -2), (83.5, -2.6), (86.8, -2), (90.5, -1.3), (94.7, 0), (97.5, 2), (100.3, 0.7),
            (103.1, -1.3), (105.9, -5.9), (108.7, -8.5), (111.5, -9.2), (114.3, -5.9), (117.2, -4.6), (120, -4.6),
            (123.3, -5.9), (126.2, -9.5), (129, -12.2), (131.2, -10.5), (133.5, -0.7), (135.4, 8.5), (138.2, 9.8),
            (140.2, 7.2), (142.5, -0.7), (145.3, -2.6), (148.1, -3), (151.5, -3.3), (155.1, -3.5), (158.8, -3.9),
            (162.1, -3.3), (165.5, -3), (169.1, -2.6), (173.4, -2), (177.6, -1.3), (181.2, -0.7), (184.1, 2),
            (186, 2.2), (189.7, 0.9), (193.1, -2), (196.4, -3), (200.1, -2.6), (204.3, -2), (208.5, -2.6),
            (212.8, -3), (217, -3), (221.2, -3.5), (225.4, -3.9), (229.7, -4.6), (233.9, -4.6), (238.1, -5.2),
            (242.4, -5.6), (246.6, -5.9), (250.8, -6.5), (255, -6.9), (259.3, -7.2), (263.5, -6.5), (267.8, -5.6),
            (271.9, -3.3), (274.8, -1.3), (277.6, -2.6), (281, -3.9), (284.6, -4.6), (288.8, -4.6), (293.1, -5.2),
            (295, -4.6)]

# ---------------- style ----------------
RED = '#C8374A'
NAVY = '#44546A'
ORANGE = '#F7A530'
TEAL = '#4ED9D5'
LBLUE = '#9DC3E6'
PINK = '#FF7E95'
FILL = '#DAE3F0'
AXC = '#404040'
TXT = '#262626'

SOLID = dict(lw=1.9, solid_joinstyle='round')
DASH = dict(lw=1.9, dashes=(2.6, 2.2))
DASHDOT = dict(lw=1.9, dashes=(3.2, 2.2, 0.8, 2.2))
DOT = dict(lw=1.9, dashes=(0.9, 2.4))

W, H = 900, 1793
fig = plt.figure(figsize=(W / 100, H / 100), dpi=100)


def box(l, t, r, b):
    return fig.add_axes([l / W, 1 - b / H, (r - l) / W, (b - t) / H])


def ftext(x, y, s, **kw):
    kw.setdefault('family', CJK)
    kw.setdefault('color', TXT)
    kw.setdefault('va', 'center')
    fig.text(x / W, 1 - y / H, s, **kw)


def key(x0, x1, y, tx, label, **line):
    fig.add_artist(Line2D([x0 / W, x1 / W], [1 - y / H, 1 - y / H], transform=fig.transFigure,
                          solid_capstyle='butt', dash_capstyle='butt', **line))
    ftext(tx, y, label, fontsize=10)


def style(ax, sides=('left', 'bottom')):
    for s, sp in ax.spines.items():
        sp.set_visible(s in sides)
        sp.set_color(AXC)
        sp.set_linewidth(1.1)
    ax.patch.set_visible(False)
    ax.tick_params(which='both', direction='out', colors=AXC, labelcolor=TXT, labelsize=10.5, width=1, length=5)
    ax.tick_params(axis='y', pad=5)


def years(ax, lo, hi, first, last):
    ax.set_xlim(lo, hi)
    ys = list(range(first, last + 1))
    ax.set_xticks([y for y in ys if lo <= y <= hi])
    ax.set_xticklabels([])
    mids = [(max(y, lo) + min(y + 1, hi)) / 2 for y in ys]
    ax.set_xticks(mids, labels=[str(y) for y in ys], minor=True)
    ax.tick_params(axis='x', which='major', length=7)
    ax.tick_params(axis='x', which='minor', length=0, pad=8)


def xy(pairs, off=0.0):
    a = np.array(pairs, dtype=float)
    return a[:, 0] + off, a[:, 1]


# ---------------- header / footer ----------------
ftext(472, 16, '图表 35：英国高频经济数据', ha='center', fontsize=15, weight='bold', color='#7B8DAB')
ftext(895, 1778, '资料来源：Macrobond，兴业研究', ha='right', fontsize=10.5, color='#8C8C8C')

# ---------------- panel 1 ----------------
ax1 = box(69, 63, 412, 325)
style(ax1)
ax1.plot(*xy(cesi, 2020), color=RED, **SOLID)
years(ax1, 2019.95, 2023.88, 2020, 2023)
ax1.set_ylim(-165, 265)
ax1.set_yticks(range(-150, 251, 50))
ftext(22, 385, '花旗经济意外指数', fontsize=12.5)

# ---------------- panel 2 ----------------
ax2 = box(504, 62, 837, 283)
style(ax2)
ax2r = ax2.twinx()
style(ax2r, ('right',))
ax2.plot(*xy(tot, 2020), color=RED, **SOLID)
tb_x = 2020 + np.arange(len(trade_bal) + 1) / 12
ax2r.plot(tb_x, trade_bal + [trade_bal[-1]], color=NAVY, drawstyle='steps-post', **DASH)
years(ax2, 2019.96, 2024.2, 2020, 2024)
ax2.set_ylim(-4.65, 9.62)
ax2.set_yticks(range(-4, 10))
ax2.yaxis.set_major_formatter(FuncFormatter(lambda v, p: f'{int(round(v))}' if round(v) % 2 == 0 else ''))
ax2r.set_ylim(-6.285, 0)
ax2r.set_yticks(range(-6, 1))
ftext(830, 72, '十亿英镑', ha='right', fontsize=10)
key(523, 543, 313, 548, '花旗商品贸易条件领先指数：英国（+4M）', color=RED, lw=2.2)
key(523, 545, 337, 550, '英国商品贸易差额，rhs', color=NAVY, lw=2.2, dashes=(2.5, 2.5))

# ---------------- panel 3 ----------------
ax3 = box(65, 420, 381, 658)
style(ax3)
ax3r = ax3.twinx()
style(ax3r, ('right',))
ax3.plot(*xy(layoffs, 2020), color=RED, **SOLID)
ue_x = 2019 + 10 / 12 + np.arange(len(unemp) + 1) / 12
ax3r.plot(ue_x, unemp + [unemp[-1]], color=NAVY, drawstyle='steps-post', **DASH)
years(ax3, 2019.8, 2024.36, 2020, 2024)
ax3.set_ylim(0, 362)
ax3.set_yticks(range(0, 351, 50))
ax3r.set_ylim(3.434, 5.31)
ax3r.set_yticks([3.5, 3.75, 4.0, 4.25, 4.5, 4.75, 5.0, 5.25])
ax3r.yaxis.set_major_formatter(FuncFormatter(lambda v, p: f'{v:.2f}'))
ftext(77, 427, '人', fontsize=10)
ftext(371, 427, '%', ha='center', fontsize=10)
key(36, 55, 690, 61, '实际裁员人数（4周移动平均，+6M）', color=RED, lw=2.2)
key(306, 328, 690, 334, '失业率，rhs', color=NAVY, lw=2.2, dashes=(2.5, 2.5))

# ---------------- panel 4 ----------------
ax4 = box(520, 417, 814, 641)
ax4r = ax4.twinx()
ax4.set_zorder(ax4r.get_zorder() + 1)
style(ax4)
style(ax4r, ('right',))
st_d = mdates.date2num(pd.to_datetime([d for d, v in storage]).to_pydatetime())
st_v = [v for d, v in storage]
ax4r.fill_between(st_d, 0, st_v, color=FILL, lw=0)
lng_d = mdates.date2num(pd.date_range('2021-10-01', '2023-10-20', periods=len(lng)).to_pydatetime())
ax4.plot(lng_d, lng, color=RED, lw=2.0)
lo4 = mdates.date2num(pd.Timestamp('2021-09-26').to_pydatetime())
hi4 = mdates.date2num(pd.Timestamp('2023-11-08').to_pydatetime())
ax4.set_xlim(lo4, hi4)
jan = pd.to_datetime(['2022-01-01', '2023-01-01'])
odd = pd.to_datetime(['2021-11-01', '2022-03-01', '2022-05-01', '2022-07-01', '2022-09-01', '2022-11-01',
                      '2023-03-01', '2023-05-01', '2023-07-01', '2023-09-01', '2023-11-01'])
ax4.set_xticks(mdates.date2num(jan.to_pydatetime()), labels=[str(d.month) for d in jan])
ax4.set_xticks(mdates.date2num(odd.to_pydatetime()), labels=[str(d.month) for d in odd], minor=True)
ax4.tick_params(axis='x', which='major', length=7, pad=2)
ax4.tick_params(axis='x', which='minor', length=3, pad=6)
ax4.set_ylim(52, 1148)
ax4.set_yticks(range(100, 1101, 100))
ax4r.set_ylim(-0.5, 114.8)
ax4r.set_yticks(range(0, 111, 10))
# the two call-out boxes sit on top of the 100 and 40 labels, as in the source chart
ax4r.yaxis.set_major_formatter(FuncFormatter(lambda v, p: '' if int(round(v)) in (40, 100) else f'{int(round(v))}'))
yb = mtransforms.blended_transform_factory(ax4.transData, ax4.transAxes)
for yr, a, b in [('2021', lo4, '2022-01-01'), ('2022', '2022-01-01', '2023-01-01'), ('2023', '2023-01-01', hi4)]:
    a = a if isinstance(a, float) else mdates.date2num(pd.Timestamp(a).to_pydatetime())
    b = b if isinstance(b, float) else mdates.date2num(pd.Timestamp(b).to_pydatetime())
    ax4.text((a + b) / 2, -0.147, yr, transform=yb, ha='center', va='center', fontsize=10.5, color=TXT)
ftext(521, 427, 'GWh/day', fontsize=10)
ftext(804, 427, '%', ha='center', fontsize=10)


def callout(trans, yval, text, color):
    ax4r.annotate(text, xy=(1, yval), xycoords=trans, xytext=(24, 0), textcoords='offset points',
                  ha='center', va='center', fontsize=13, color=color, family=CJK,
                  bbox=dict(boxstyle='square,pad=0.38', fc='white', ec=color, lw=1),
                  arrowprops=dict(arrowstyle='wedge,tail_width=1.5', fc='white', ec=color, lw=1,
                                  shrinkA=0, shrinkB=0),
                  annotation_clip=False, zorder=10)


callout(mtransforms.blended_transform_factory(ax4r.transAxes, ax4r.transData), st_v[-1], '101', '#9DBAE0')
callout(mtransforms.blended_transform_factory(ax4r.transAxes, ax4.transData), lng[-1], '444', '#D7707E')
fig.add_artist(Rectangle((547 / W, 1 - 698 / H), 11 / W, 11 / H, transform=fig.transFigure, color=FILL, lw=0))
ftext(562, 692, '天然气库存水平，rhs', fontsize=10)
key(712, 731, 692, 735, 'LNG供给量', color=RED, lw=2.2)

# ---------------- panel 5 ----------------
ax5 = box(68, 733, 417, 964)
style(ax5)
ax5.plot(*xy(card20), color=TEAL, **DASHDOT)
ax5.plot(*xy(card21), color=ORANGE, **DASH)
ax5.plot(*xy(card22), color=NAVY, **DASH)
ax5.plot(*xy(card23), color=RED, lw=1.9, dashes=(3.2, 1.2))
ax5.set_xlim(-0.75, 365.3)
ax5.set_xticks(range(1, 354, 22))
ax5.tick_params(axis='x', length=6, pad=2)
ax5.set_ylim(47, 133.4)
ax5.set_yticks(range(50, 131, 10))
ftext(75, 741, '较2020年2月均值：%', fontsize=9.5)
key(107, 127, 996, 132, '2023', color=RED, lw=2.2)
key(168, 193, 996, 197, '2022', color=NAVY, lw=2.2, dashes=(2.5, 2.5))
key(233, 258, 996, 262, '2021', color=ORANGE, lw=2.2, dashes=(2.5, 2.5))
key(300, 320, 996, 324, '2020', color=TEAL, lw=2.2, dashes=(3, 2, 0.8, 2))
ftext(24, 1047, '银行卡消费指数（4周移动平均）', fontsize=12)

# ---------------- panel 6 ----------------
ax6 = box(519, 723, 870, 942)
style(ax6)
ax6.plot(*xy(work), color=TEAL, **DASHDOT)
ax6.plot(*xy(social), color=ORANGE, **DASH)
ax6.plot(*xy(delayable), color=NAVY, **DASH)
ax6.plot(*xy(staple), color=RED, **SOLID)
years(ax6, 2020.06, 2023.84, 2020, 2023)
ax6.set_ylim(0, 155.5)
ax6.set_yticks(range(0, 151, 25))
ftext(527, 731, '较2020年2月均值：%', fontsize=9.5)
key(493, 513, 975, 519, '必选消费（Staple）', color=RED, lw=2.2)
key(662, 685, 975, 691, '可选消费（Delayable）', color=NAVY, lw=2.2, dashes=(2.5, 2.5))
key(493, 518, 997, 523, '社交相关（Social）', color=ORANGE, lw=2.2, dashes=(2.5, 2.5))
key(665, 685, 997, 691, '工作相关（Work Related）', color=TEAL, lw=2.2, dashes=(3, 2, 0.8, 2))
ftext(475, 1047, '银行卡消费指数分项（4周移动平均）', fontsize=12)

# ---------------- panel 7 ----------------
ax7 = box(68, 1083, 385, 1298)
style(ax7)
ax7r = ax7.twinx()
style(ax7r, ('right',))
ax7.plot(*xy(rail, 2021), color=PINK, **DOT)
ax7.plot(*xy(car, 2021), color=ORANGE, **DASH)
ax7.plot(*xy(bike, 2021), color=TEAL, **DASHDOT)
ax7.plot(*xy(bus, 2021), color=NAVY, **DASH)
ax7.plot(*xy(lcv, 2021), color=LBLUE, lw=2.2)
ax7r.plot(*xy(truck, 2021), color=RED, **SOLID)
years(ax7, 2020.994, 2023.826, 2021, 2023)
ax7.set_ylim(0, 234)
ax7.set_yticks(range(0, 226, 25))
ax7r.set_ylim(56.6, 143.4)
ax7r.set_yticks(range(60, 141, 10))
ftext(74, 1091, '较2020年2月第一周：%', fontsize=9.5)
key(43, 63, 1330, 68, '重型货车，rhs', color=RED, lw=2.2)
key(170, 193, 1330, 199, '公共汽车', color=NAVY, lw=2.2, dashes=(2.5, 2.5))
key(263, 287, 1330, 293, '小轿车', color=ORANGE, lw=2.2, dashes=(2.5, 2.5))
key(343, 363, 1330, 370, '自行车', color=TEAL, lw=2.2, dashes=(3, 2, 0.8, 2))
key(43, 63, 1353, 68, '轻型商用车', color=LBLUE, lw=2.2)
key(147, 177, 1353, 182, '铁路', color=PINK, lw=2.2, dashes=(1, 2.5))
ftext(25, 1402, '交通工具使用指数（4周移动平均）', fontsize=12)

# ---------------- panel 8 ----------------
ax8 = box(519, 1084, 868, 1320)
style(ax8)
ax8.plot(*xy(hgv20), color=TEAL, **DASHDOT)
ax8.plot(*xy(hgv21), color=ORANGE, **DASH)
ax8.plot(*xy(hgv22), color=NAVY, **DASH)
ax8.plot(*xy(hgv23), color=RED, **SOLID)
ax8.set_xlim(-0.4, 368)
ax8.set_xticks(range(1, 354, 22))
ax8.tick_params(axis='x', length=6, pad=2)
ax8.set_ylim(57.4, 122.4)
ax8.set_yticks(range(60, 121, 10))
ftext(527, 1092, '较2020年2月均值：%', fontsize=9.5)
key(558, 578, 1352, 583, '2023', color=RED, lw=2.2)
key(619, 643, 1352, 647, '2022', color=NAVY, lw=2.2, dashes=(2.5, 2.5))
key(685, 708, 1352, 713, '2021', color=ORANGE, lw=2.2, dashes=(2.5, 2.5))
key(750, 769, 1352, 774, '2020', color=TEAL, lw=2.2, dashes=(3, 2, 0.8, 2))
ftext(476, 1402, '重型货车使用指数（4周移动平均）', fontsize=12)

# ---------------- panel 9 ----------------
ax9 = box(64, 1424, 415, 1645)
style(ax9)
ax9.axhline(0, color='#A6A6A6', lw=1.1, dashes=(3, 2))
ax9.plot(*xy(ot_world), color=TEAL, **DASHDOT)
ax9.plot(*xy(ot_us), color=ORANGE, **DASH)
ax9.plot(*xy(ot_de), color=NAVY, **DASH)
ax9.plot(*xy(ot_uk), color=RED, **SOLID)
ax9.set_xlim(4, 300)
month_start = [32, 60, 91, 121, 152, 182, 213, 244, 274]
month_mid = [16, 46, 75, 106, 136, 167, 197, 228, 259, 289]
ax9.set_xticks(month_start, labels=[''] * len(month_start))
ax9.set_xticks(month_mid, labels=[str(m) for m in range(1, 11)], minor=True)
ax9.tick_params(axis='x', which='major', length=4)
ax9.tick_params(axis='x', which='minor', length=0, pad=6)
ax9.set_ylim(-23.3, 63.4)
ax9.set_yticks(range(-20, 61, 10))
ax9.text(0.5, -0.13, '2023', transform=ax9.transAxes, ha='center', va='center', fontsize=10.5, color=TXT)
ftext(73, 1432, '%', ha='center', fontsize=10)
key(104, 124, 1691, 130, '英国', color=RED, lw=2.2)
key(167, 190, 1691, 195, '德国', color=NAVY, lw=2.2, dashes=(2.5, 2.5))
key(230, 255, 1691, 260, '美国', color=ORANGE, lw=2.2, dashes=(2.5, 2.5))
key(297, 317, 1691, 322, '全球', color=TEAL, lw=2.2, dashes=(3, 2, 0.8, 2))
ftext(13, 1741, 'OPENTABLE 每天就座食客数量同比（周移动平均）', fontsize=12.5,
      family=['Liberation Serif', 'Noto Sans CJK SC'])

fig.savefig('out.png', dpi=100)
